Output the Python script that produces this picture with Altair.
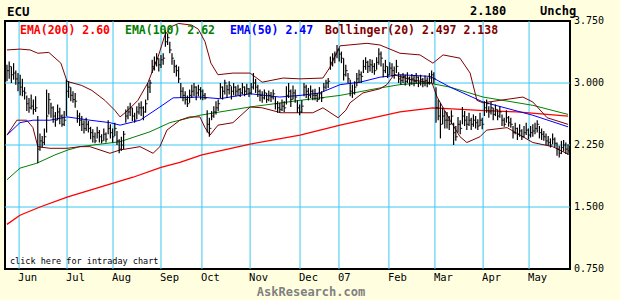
import altair as alt
import pandas as pd

# ---- daily bars (trading-day index 0..255) ----
high = [3.22, 3.26, 3.20, 3.24, 3.15, 3.12, 3.10, 3.05, 2.95, 2.85,
        2.82, 2.86, 2.80, 2.84, 2.60, 2.39, 2.36, 2.45, 2.92, 2.88,
        2.76, 2.72, 2.65, 2.74, 2.70, 2.62, 2.66, 3.04, 3.02, 2.95,
        2.90, 2.88, 2.67, 2.64, 2.60, 2.55, 2.58, 2.54, 2.47, 2.44,
        2.40, 2.47, 2.43, 2.38, 2.45, 2.40, 2.55, 2.50, 2.45, 2.52,
        2.42, 2.32, 2.35, 2.42, 2.68, 2.72, 2.76, 2.70, 2.64, 2.72,
        2.76, 2.78, 2.72, 2.80, 3.00, 3.04, 3.28, 3.32, 3.36, 3.30,
        3.34, 3.36, 3.64, 3.60, 3.50, 3.36, 3.28, 3.22, 3.20, 3.00,
        2.95, 2.90, 2.85, 2.92, 2.98, 3.00, 2.96, 2.98, 2.95, 2.92,
        2.88, 2.67, 2.58, 2.66, 2.72, 2.78, 2.80, 3.00, 2.96, 3.04,
        2.98, 3.02, 2.96, 3.00, 2.96, 2.98, 2.94, 3.00, 2.96, 2.99,
        2.94, 3.00, 3.12, 3.05, 2.98, 2.92, 2.90, 2.92, 2.88, 2.91,
        2.89, 2.92, 2.83, 2.78, 2.76, 2.80, 2.78, 2.96, 3.00, 2.92,
        2.97, 2.92, 2.79, 2.74, 2.79, 3.00, 2.98, 2.94, 2.97, 2.92,
        2.93, 2.88, 2.95, 2.90, 3.00, 3.04, 3.06, 3.32, 3.36, 3.38,
        3.46, 3.42, 3.38, 3.30, 3.22, 3.12, 3.04, 2.98, 3.02, 3.12,
        3.16, 3.14, 3.28, 3.31, 3.27, 3.29, 3.28, 3.24, 3.31, 3.42,
        3.38, 3.24, 3.28, 3.20, 3.25, 3.24, 3.20, 3.28, 3.13, 3.10,
        3.12, 3.10, 3.13, 3.08, 3.11, 3.09, 3.12, 3.08, 3.10, 3.06,
        3.09, 3.07, 3.12, 3.15, 3.13, 2.95, 2.80, 2.76, 2.70, 2.66,
        2.65, 2.60, 2.67, 2.52, 2.48, 2.59, 2.55, 2.71, 2.66, 2.60,
        2.64, 2.58, 2.62, 2.60, 2.56, 2.64, 2.58, 2.78, 2.80, 2.72,
        2.77, 2.70, 2.74, 2.68, 2.72, 2.62, 2.58, 2.67, 2.60, 2.58,
        2.48, 2.52, 2.46, 2.50, 2.44, 2.48, 2.52, 2.45, 2.48, 2.50,
        2.52, 2.55, 2.48, 2.45, 2.42, 2.39, 2.36, 2.33, 2.39, 2.34,
        2.28, 2.24, 2.30, 2.31, 2.28, 2.26]
low = [3.02, 3.05, 3.00, 3.04, 2.98, 2.90, 2.85, 2.84, 2.80, 2.66,
       2.64, 2.68, 2.62, 2.65, 2.03, 2.18, 2.22, 2.25, 2.40, 2.62,
       2.58, 2.52, 2.47, 2.55, 2.50, 2.47, 2.48, 2.60, 2.82, 2.78,
       2.76, 2.70, 2.52, 2.48, 2.42, 2.39, 2.42, 2.40, 2.32, 2.28,
       2.27, 2.33, 2.28, 2.27, 2.30, 2.28, 2.38, 2.33, 2.28, 2.36,
       2.25, 2.15, 2.18, 2.20, 2.52, 2.56, 2.60, 2.54, 2.52, 2.56,
       2.62, 2.60, 2.55, 2.64, 2.79, 2.88, 3.12, 3.15, 3.20, 3.14,
       3.18, 3.22, 3.44, 3.46, 3.36, 3.22, 3.12, 3.08, 3.00, 2.82,
       2.78, 2.74, 2.71, 2.76, 2.82, 2.84, 2.79, 2.84, 2.80, 2.79,
       2.80, 2.40, 2.35, 2.55, 2.58, 2.62, 2.66, 2.82, 2.80, 2.86,
       2.82, 2.86, 2.80, 2.85, 2.84, 2.85, 2.83, 2.86, 2.84, 2.86,
       2.83, 2.86, 2.92, 2.88, 2.83, 2.78, 2.76, 2.80, 2.76, 2.78,
       2.77, 2.80, 2.68, 2.64, 2.64, 2.66, 2.65, 2.74, 2.82, 2.71,
       2.80, 2.76, 2.64, 2.61, 2.64, 2.84, 2.82, 2.79, 2.82, 2.79,
       2.79, 2.77, 2.80, 2.77, 2.90, 2.92, 2.94, 3.16, 3.20, 3.24,
       3.30, 3.26, 3.24, 3.03, 3.08, 3.00, 2.84, 2.82, 2.86, 2.96,
       3.00, 3.00, 3.12, 3.16, 3.12, 3.14, 3.12, 3.10, 3.16, 3.22,
       3.20, 3.07, 3.12, 3.06, 3.10, 3.08, 3.05, 3.12, 3.00, 2.98,
       3.00, 2.97, 3.00, 2.96, 2.98, 2.96, 2.99, 2.95, 2.97, 2.95,
       2.96, 2.95, 2.98, 3.00, 2.99, 2.52, 2.55, 2.33, 2.50, 2.45,
       2.45, 2.43, 2.50, 2.25, 2.30, 2.40, 2.38, 2.50, 2.48, 2.43,
       2.48, 2.43, 2.47, 2.45, 2.43, 2.48, 2.44, 2.60, 2.64, 2.58,
       2.62, 2.55, 2.60, 2.55, 2.58, 2.48, 2.47, 2.52, 2.47, 2.46,
       2.33, 2.38, 2.31, 2.35, 2.31, 2.34, 2.37, 2.32, 2.34, 2.35,
       2.38, 2.40, 2.33, 2.31, 2.30, 2.25, 2.24, 2.22, 2.26, 2.22,
       2.12, 2.10, 2.14, 2.17, 2.14, 2.13]
close = [3.15, 3.20, 3.10, 3.12, 3.05, 3.00, 2.95, 2.90, 2.88, 2.75,
         2.70, 2.72, 2.68, 2.70, 2.20, 2.30, 2.28, 2.35, 2.60, 2.80,
         2.70, 2.60, 2.55, 2.65, 2.60, 2.50, 2.55, 2.90, 2.95, 2.85,
         2.80, 2.78, 2.60, 2.55, 2.50, 2.45, 2.50, 2.45, 2.40, 2.35,
         2.30, 2.40, 2.35, 2.30, 2.38, 2.32, 2.45, 2.40, 2.35, 2.45,
         2.30, 2.20, 2.25, 2.38, 2.60, 2.65, 2.70, 2.60, 2.55, 2.65,
         2.70, 2.70, 2.65, 2.75, 2.95, 3.00, 3.20, 3.25, 3.30, 3.22,
         3.28, 3.30, 3.50, 3.55, 3.40, 3.30, 3.20, 3.15, 3.05, 2.90,
         2.85, 2.80, 2.75, 2.85, 2.90, 2.95, 2.88, 2.92, 2.90, 2.85,
         2.82, 2.50, 2.45, 2.60, 2.65, 2.70, 2.75, 2.95, 2.90, 3.00,
         2.92, 2.97, 2.90, 2.95, 2.90, 2.92, 2.88, 2.95, 2.90, 2.93,
         2.88, 2.95, 3.00, 2.95, 2.90, 2.85, 2.82, 2.88, 2.80, 2.85,
         2.83, 2.87, 2.75, 2.70, 2.68, 2.72, 2.70, 2.85, 2.90, 2.80,
         2.88, 2.83, 2.70, 2.65, 2.72, 2.95, 2.90, 2.85, 2.90, 2.85,
         2.85, 2.80, 2.87, 2.82, 2.95, 3.00, 3.02, 3.25, 3.30, 3.35,
         3.40, 3.35, 3.30, 3.10, 3.15, 3.05, 2.90, 2.88, 2.95, 3.05,
         3.10, 3.08, 3.20, 3.25, 3.20, 3.22, 3.20, 3.15, 3.25, 3.35,
         3.30, 3.15, 3.20, 3.10, 3.18, 3.15, 3.10, 3.20, 3.05, 3.03,
         3.08, 3.02, 3.06, 3.00, 3.05, 3.02, 3.07, 3.00, 3.04, 3.00,
         3.03, 3.00, 3.06, 3.10, 3.05, 2.70, 2.60, 2.50, 2.60, 2.55,
         2.55, 2.50, 2.60, 2.40, 2.35, 2.50, 2.45, 2.60, 2.55, 2.50,
         2.55, 2.50, 2.55, 2.52, 2.48, 2.55, 2.50, 2.70, 2.75, 2.65,
         2.70, 2.62, 2.68, 2.60, 2.65, 2.55, 2.50, 2.58, 2.52, 2.50,
         2.40, 2.45, 2.38, 2.42, 2.35, 2.40, 2.43, 2.37, 2.40, 2.42,
         2.45, 2.50, 2.40, 2.38, 2.35, 2.30, 2.28, 2.25, 2.32, 2.27,
         2.20, 2.15, 2.22, 2.25, 2.20, 2.18]

# ---- indicator lines, sampled points (day index, value) ----
ema200_i = [0, 5.9, 15, 27.3, 42.3, 57.3, 70, 78.6, 88.6, 110.5, 133.2, 151.4, 178.6, 193.6, 215, 231.8, 255]
ema200_v = [1.29, 1.40, 1.50, 1.62, 1.74, 1.86, 1.98, 2.04, 2.13, 2.26, 2.37, 2.49, 2.65, 2.70, 2.67, 2.65, 2.60]

ema100_i = [0, 5.9, 13.6, 21.8, 27.7, 33.2, 51.4, 65, 74, 87.7, 110.5, 133.2, 151.4, 169.5, 178.6, 188, 193.6, 201.4, 216.4, 239, 255]
ema100_v = [1.83, 1.97, 2.03, 2.13, 2.19, 2.23, 2.29, 2.41, 2.52, 2.61, 2.71, 2.79, 2.85, 2.94, 2.98, 3.00, 2.99, 2.95, 2.83, 2.73, 2.62]

ema50_i = [0, 5.9, 11.8, 19.5, 27.3, 37.7, 46.8, 51.4, 60.5, 69.5, 75.5, 87.7, 96.8, 110.5, 124, 133.2, 142.3, 151.4, 160.5, 169.5, 178.6, 192.3, 201.4, 216.4, 239, 255]
ema50_v = [2.37, 2.52, 2.55, 2.55, 2.59, 2.55, 2.52, 2.49, 2.55, 2.71, 2.82, 2.83, 2.81, 2.87, 2.83, 2.85, 2.88, 2.98, 3.01, 3.07, 3.10, 3.08, 2.95, 2.77, 2.61, 2.47]

bbu_i = [0, 5.9, 10.5, 14, 19, 24.5, 27.3, 34, 38.6, 44.5, 49, 51.4, 55, 59.5, 64, 68.6, 71.8, 74.5, 78, 84, 87, 90, 92.7, 95.9, 102.7, 110.5, 116, 125.5, 133.2, 143.6, 146.8, 151.4, 163.6, 169.5, 178.6, 187.7, 193.6, 198.2, 205.9, 210.5, 213.6, 216.4, 224, 234.5, 239, 245.5, 255]
bbu_v = [3.40, 3.41, 3.40, 3.36, 3.37, 3.24, 3.02, 2.97, 2.91, 2.79, 2.67, 2.59, 2.67, 2.79, 3.00, 3.31, 3.58, 3.68, 3.72, 3.70, 3.65, 3.50, 3.24, 3.10, 3.12, 3.12, 3.01, 3.06, 3.05, 3.06, 3.19, 3.45, 3.48, 3.46, 3.36, 3.34, 3.24, 3.34, 3.30, 3.12, 2.79, 2.76, 2.79, 2.83, 2.77, 2.58, 2.50]

bbl_i = [0, 4.5, 9, 11.8, 14, 19.5, 27.3, 33.2, 37.7, 46.8, 51.4, 60.5, 66.4, 69.5, 72.7, 78.6, 83, 87.7, 90, 92.3, 95.9, 102.7, 110.5, 116, 124.5, 133.2, 139, 143.6, 150.5, 154, 155.9, 161.8, 169.5, 172.7, 175.9, 183.6, 193.2, 195.5, 201.4, 205.9, 209, 215, 218, 227.3, 233.2, 239, 248, 255]
bbl_v = [2.37, 2.55, 2.55, 2.46, 2.23, 2.21, 2.21, 2.23, 2.23, 2.15, 2.19, 2.23, 2.15, 2.23, 2.43, 2.55, 2.59, 2.59, 2.46, 2.37, 2.49, 2.52, 2.71, 2.70, 2.64, 2.64, 2.64, 2.70, 2.58, 2.67, 2.76, 2.88, 2.93, 2.98, 3.10, 3.04, 3.00, 2.83, 2.55, 2.35, 2.28, 2.35, 2.43, 2.46, 2.37, 2.28, 2.23, 2.14]

# ---- axes ----
month_labels = ["Jun", "Jul", "Aug", "Sep", "Oct", "Nov", "Dec", "07", "Feb", "Mar", "Apr", "May"]
month_pos = [5.5, 27.3, 48.2, 70, 88.6, 110.5, 133.2, 150.9, 173.6, 194.5, 216.4, 237.3]
y_ticks = [0.75, 1.5, 2.25, 3.0, 3.75]
y_tick_labels = ["0.750", "1.500", "2.250", "3.000", "3.750"]
y_grid = [1.5, 2.25, 3.0]

GRID = "#3CC8F0"
MONO = "DejaVu Sans Mono"
X = alt.Scale(domain=[-0.9, 255.9], nice=False, zero=False)
Y = alt.Scale(domain=[0.75, 3.75], nice=False, zero=False)

bars = pd.DataFrame({"i": list(range(len(close))), "high": high, "low": low, "close": close})
months = pd.DataFrame({"i": month_pos, "m": month_labels})

vgrid = alt.Chart(months).mark_rule(color=GRID, strokeWidth=1).encode(
    x=alt.X("i:Q", scale=X, axis=None))
hgrid = alt.Chart(pd.DataFrame({"v": y_grid})).mark_rule(color=GRID, strokeWidth=1).encode(
    y=alt.Y("v:Q", scale=Y, axis=None))
ylabels = alt.Chart(pd.DataFrame({"v": y_ticks, "t": y_tick_labels})).mark_text(
    align="left", baseline="middle", font=MONO, fontSize=10, color="black").encode(
    y=alt.Y("v:Q", scale=Y, axis=None), x=alt.value(569), text="t:N")
month_text = alt.Chart(months).mark_text(align="left", baseline="alphabetic", font=MONO,
                                         fontSize=10.5, color="black", dx=-1).encode(
    x=alt.X("i:Q", scale=X, axis=None), y=alt.value(260), text="m:N")


def line(i_list, v_list, color, w=1.0):
    df = pd.DataFrame({"i": i_list, "v": v_list})
    return alt.Chart(df).mark_line(color=color, strokeWidth=w).encode(
        x=alt.X("i:Q", scale=X, axis=None), y=alt.Y("v:Q", scale=Y, axis=None))


hl = alt.Chart(bars).mark_rule(color="black", strokeWidth=1.2).encode(
    x=alt.X("i:Q", scale=X, axis=None), y=alt.Y("low:Q", scale=Y, axis=None), y2="high:Q")
cl = alt.Chart(bars).mark_tick(color="black", orient="horizontal", size=2, thickness=1.2, xOffset=1).encode(
    x=alt.X("i:Q", scale=X, axis=None), y=alt.Y("close:Q", scale=Y, axis=None))


def label(txt, px, py, color="black", size=11.5, bold=True, align="left", font=MONO):
    return alt.Chart(pd.DataFrame({"t": [txt]})).mark_text(
        align=align, baseline="alphabetic", font=font, fontSize=size,
        fontWeight="bold" if bold else "normal", color=color).encode(
        text="t:N", x=alt.value(px), y=alt.value(py))


texts = [
    label("ECU", 2, -5, size=12.5),
    label("2.180", 465, -6, size=12),
    label("Unchg", 535, -6, size=12),
    label("EMA(200) 2.60", 15, 13, color="#FF0000"),
    label("EMA(100) 2.62", 120, 13, color="#008000"),
    label("EMA(50) 2.47", 225, 13, color="#0000FF"),
    label("Bollinger(20) 2.497 2.138", 320, 13, color="#800000"),
    label("click here for intraday chart", 5, 243, size=8.5, bold=False),
    label("AskResearch.com", 306, 275, color="#808080", size=12, align="center"),
]

chart = alt.layer(
    vgrid, hgrid,
    line(ema200_i, ema200_v, "#FF0000", 1.3),
    line(ema100_i, ema100_v, "#008000"),
    line(ema50_i, ema50_v, "#0000FF"),
    line(bbu_i, bbu_v, "#800000"),
    line(bbl_i, bbl_v, "#800000"),
    hl, cl, month_text, ylabels, *texts
).properties(
    width=565, height=248, autosize="none",
    padding={"left": 5, "top": 21, "right": 50, "bottom": 31},
    background="#FFFFE0"
).configure_view(stroke="black", strokeWidth=2, fill="white")

chart.save("out.html", embed_options={"renderer": "svg", "actions": False})
